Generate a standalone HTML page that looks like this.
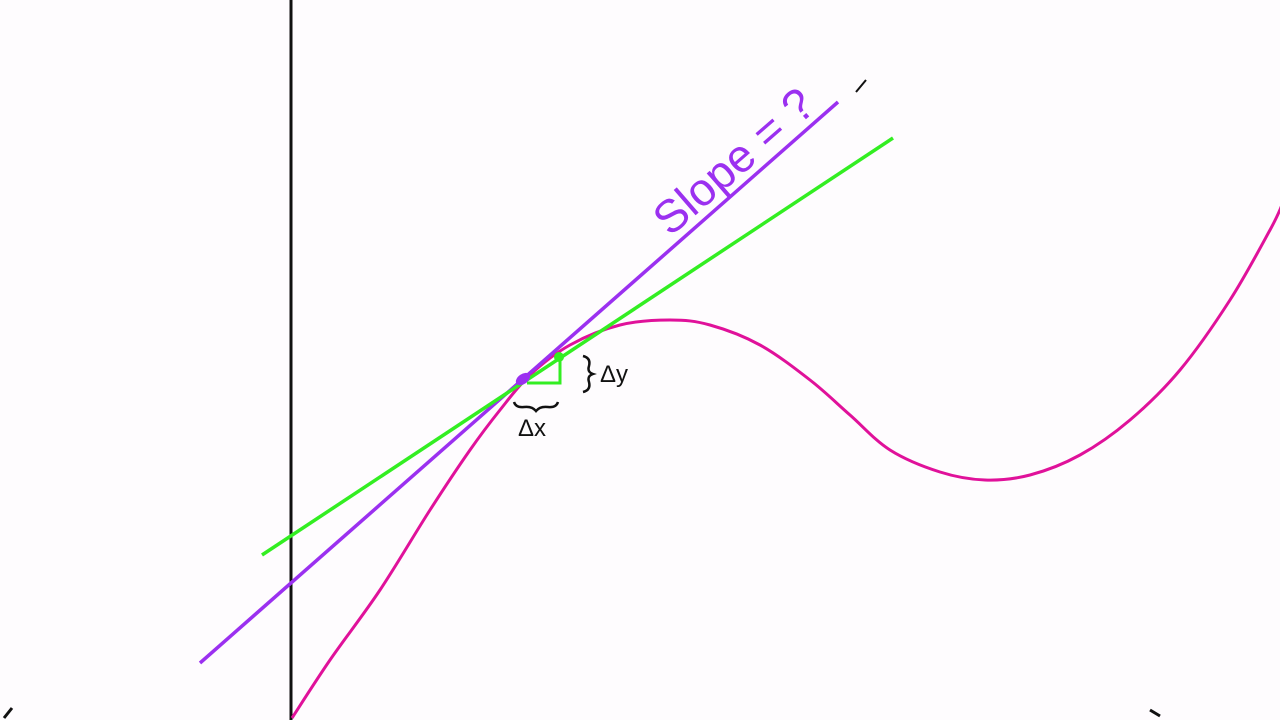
<!DOCTYPE html>
<html><head><meta charset="utf-8"><style>
html,body{margin:0;padding:0;background:#fefcfe;}
svg{display:block;}
</style></head><body>
<svg width="1280" height="720" viewBox="0 0 1280 720">
<rect width="1280" height="720" fill="#fefcfe"/>
<line x1="291" y1="0" x2="291" y2="720" stroke="#111" stroke-width="3"/>
<path d="M4 718 L12 708" stroke="#111" stroke-width="3" fill="none"/>
<path d="M1150 710 L1160 716" stroke="#111" stroke-width="3" fill="none"/>
<path id="curve" fill="none" stroke="#e0119a" stroke-width="3" stroke-linejoin="round"/>
<line x1="200" y1="663" x2="838" y2="102" stroke="#9b30f0" stroke-width="3.5"/>
<line x1="262" y1="555" x2="893" y2="138" stroke="#33ee22" stroke-width="3.5"/>
<ellipse cx="523" cy="379" rx="8" ry="5" fill="#9b30f0" transform="rotate(-35 523 379)"/>
<circle cx="559" cy="357" r="5" fill="#33ee22"/>
<path d="M527 383 L560 383 L560 358" fill="none" stroke="#33ee22" stroke-width="3"/>
<path d="M583 356 q8 2 6 10 q-2 6 4 8 q-6 2 -4 8 q2 8 -6 10" fill="none" stroke="#111" stroke-width="2.5"/>
<text x="600" y="382" font-family="Liberation Sans, sans-serif" font-size="24" fill="#111">Δy</text>
<path d="M514 402 q2 6 10 5 q8 -1 12 4 q4 -5 12 -4 q8 1 10 -5" fill="none" stroke="#111" stroke-width="2.5"/>
<text x="518" y="436" font-family="Liberation Sans, sans-serif" font-size="24" fill="#111">Δx</text>
<text x="0" y="0" transform="translate(736,164) rotate(-41)" text-anchor="middle" dominant-baseline="middle" font-family="Liberation Sans, sans-serif" font-size="46" fill="#9b30f0">Slope = ?</text>
<path d="M856 92 L866 80" stroke="#111" stroke-width="2"/>
</svg>
<script>
const curveX=[292,330,380,430,470,500,530,570,620,670,710,760,810,850,890,940,985,1030,1080,1130,1180,1230,1270,1282];
const curveY=[718,660,590,510,450,410,375,345,325,320,325,345,380,415,450,472,480,475,455,420,370,300,230,205];
let d='M'+curveX[0]+' '+curveY[0];
for(let i=0;i<curveX.length-1;i++){
  const x0=curveX[Math.max(i-1,0)],y0=curveY[Math.max(i-1,0)];
  const x1=curveX[i],y1=curveY[i],x2=curveX[i+1],y2=curveY[i+1];
  const x3=curveX[Math.min(i+2,curveX.length-1)],y3=curveY[Math.min(i+2,curveX.length-1)];
  d+=' C'+(x1+(x2-x0)/6)+' '+(y1+(y2-y0)/6)+' '+(x2-(x3-x1)/6)+' '+(y2-(y3-y1)/6)+' '+x2+' '+y2;
}
document.getElementById('curve').setAttribute('d',d);
</script>
</body></html>
